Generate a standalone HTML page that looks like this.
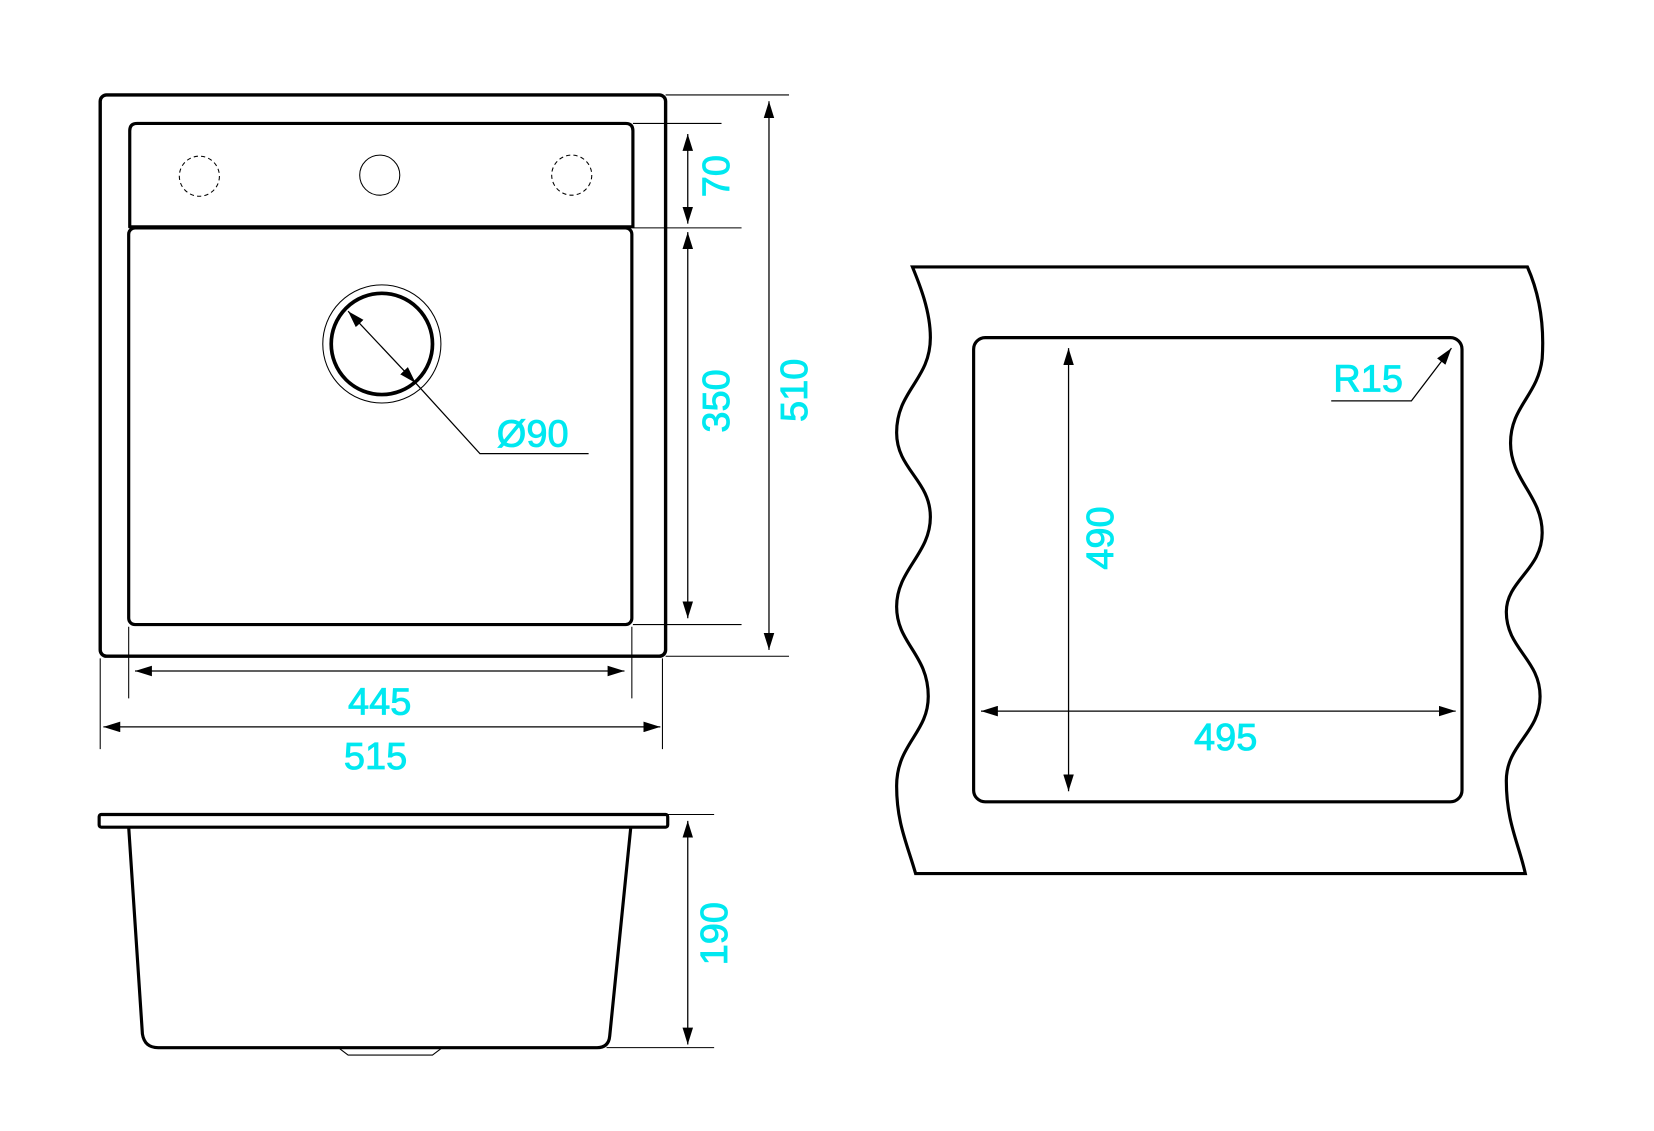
<!DOCTYPE html>
<html><head><meta charset="utf-8"><style>
html,body{margin:0;padding:0;background:#fff;}
svg{display:block;}
text{font-family:"Liberation Sans",sans-serif;fill:#00e8f0;font-size:36px;stroke:#00e8f0;stroke-width:0.8px;}
</style></head><body>
<svg width="1654" height="1131" viewBox="0 0 1568 1072" preserveAspectRatio="none" xmlns="http://www.w3.org/2000/svg">
<defs>
<marker id="a" viewBox="0 0 16 10" refX="16" refY="5" markerWidth="16" markerHeight="10" markerUnits="userSpaceOnUse" orient="auto">
<path d="M0,0 L16,5 L0,10 Z" fill="#000"/></marker>
<marker id="b" viewBox="0 0 16 10" refX="0" refY="5" markerWidth="16" markerHeight="10" markerUnits="userSpaceOnUse" orient="auto">
<path d="M16,0 L0,5 L16,10 Z" fill="#000"/></marker>
</defs>
<g fill="none" stroke="#000">
<rect x="95" y="90" width="536" height="532" rx="6" stroke-width="3.2"/>
<path d="M123,216 V124 Q123,117 130,117 H593 Q600,117 600,124 V216" stroke-width="3"/>
<path d="M122,215 H600" stroke-width="3"/>
<rect x="122" y="216" width="477" height="376" rx="6" stroke-width="3"/>
<circle cx="189" cy="167" r="19" stroke-width="1" stroke-dasharray="4,3"/>
<circle cx="360" cy="166" r="19" stroke-width="1"/>
<circle cx="542" cy="166" r="19" stroke-width="1" stroke-dasharray="4,3"/>
<circle cx="362" cy="326" r="56" stroke-width="1"/>
<circle cx="362" cy="326" r="48" stroke-width="3.5"/>
<path d="M330,295 L394,363" stroke-width="1.2" marker-start="url(#b)" marker-end="url(#a)"/>
<path d="M394,363 L455,430 H558" stroke-width="1.2"/>
<path d="M600,117 H684 M600,216 H703 M600,592 H703 M631,90 H748 M631,622 H748" stroke-width="1"/>
<path d="M652,127 V212" stroke-width="1.2" marker-start="url(#b)" marker-end="url(#a)"/>
<path d="M652,220 V586" stroke-width="1.2" marker-start="url(#b)" marker-end="url(#a)"/>
<path d="M729,96 V616" stroke-width="1.2" marker-start="url(#b)" marker-end="url(#a)"/>
<path d="M122,594 V662 M599,594 V662 M95,624 V710 M628,624 V710" stroke-width="1"/>
<path d="M128,636 H592" stroke-width="1.2" marker-start="url(#b)" marker-end="url(#a)"/>
<path d="M98,689 H626" stroke-width="1.2" marker-start="url(#b)" marker-end="url(#a)"/>
<rect x="94" y="772" width="539" height="12" rx="2" stroke-width="3"/>
<path d="M122,784 L135,980 Q137,993 150,993 H566 Q577,993 578,982 L598,784" stroke-width="3"/>
<path d="M322,994 L330,1000 H410 L418,994" stroke-width="1"/>
<path d="M633,772 H677 M575,993 H677" stroke-width="1"/>
<path d="M652,778 V990" stroke-width="1.2" marker-start="url(#b)" marker-end="url(#a)"/>
<path d="M865,253 H1448 C1460,280 1464,310 1462,340 C1458,375 1432,385 1432,420 C1432,455 1462,470 1462,505 C1462,540 1428,550 1428,580 C1428,615 1460,625 1460,660 C1460,695 1428,705 1428,740 C1428,780 1440,800 1446,828 H868 C860,800 850,780 850,745 C850,705 880,695 880,660 C880,620 850,610 850,575 C850,540 882,525 882,490 C882,455 850,445 850,410 C850,370 882,360 882,320 C882,295 872,270 865,253 Z" stroke-width="3"/>
<rect x="923" y="320" width="463" height="440" rx="11" stroke-width="3"/>
<path d="M1013,330 V750" stroke-width="1.2" marker-start="url(#b)" marker-end="url(#a)"/>
<path d="M930,674 H1380" stroke-width="1.2" marker-start="url(#b)" marker-end="url(#a)"/>
<path d="M1262,380 H1338 L1376,330" stroke-width="1.2" marker-end="url(#a)"/>
</g>
<text x="505" y="423" text-anchor="middle">Ø90</text>
<text x="360" y="677" text-anchor="middle">445</text>
<text x="356" y="729" text-anchor="middle">515</text>
<text x="1162" y="711" text-anchor="middle">495</text>
<text x="1297" y="371" text-anchor="middle">R15</text>
<text transform="translate(691,167) rotate(-90)" text-anchor="middle">70</text>
<text transform="translate(691,380) rotate(-90)" text-anchor="middle">350</text>
<text transform="translate(765,370) rotate(-90)" text-anchor="middle">510</text>
<text transform="translate(689,885) rotate(-90)" text-anchor="middle">190</text>
<text transform="translate(1055,510) rotate(-90)" text-anchor="middle">490</text>
</svg>
</body></html>
